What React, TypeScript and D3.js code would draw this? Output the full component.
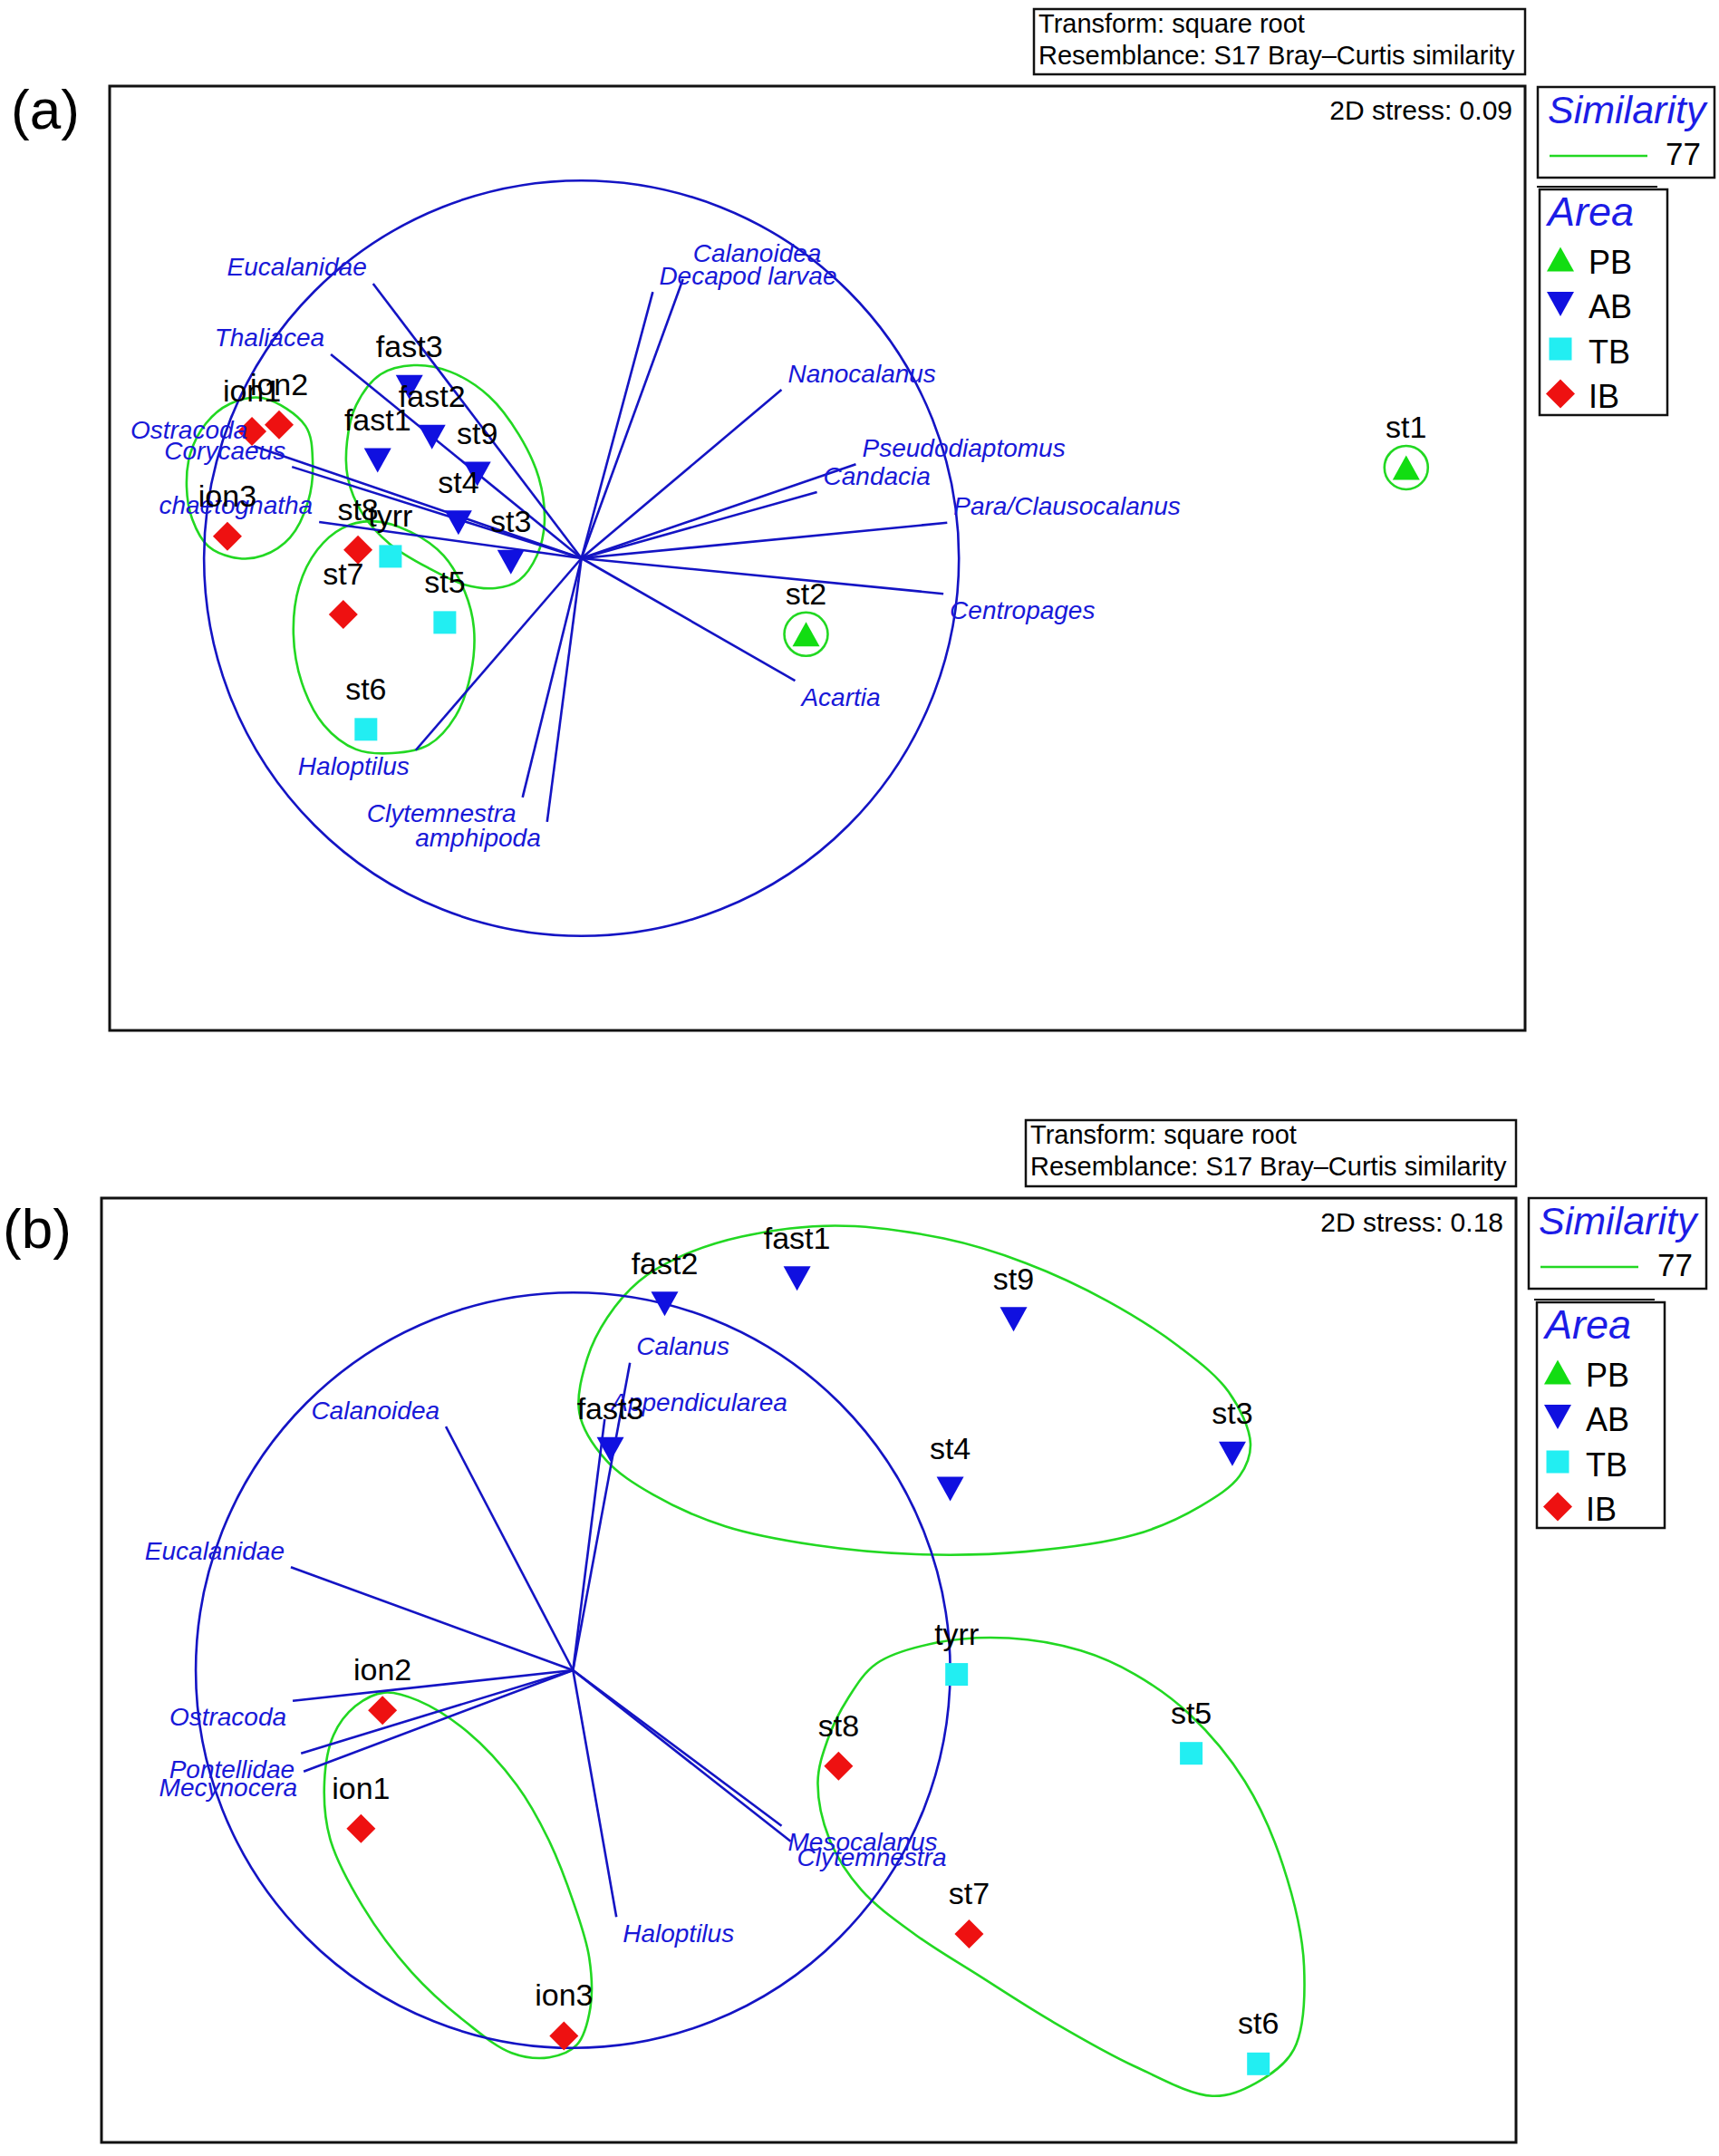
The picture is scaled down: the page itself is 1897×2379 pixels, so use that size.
import React from 'react';
import * as d3 from 'd3';

// ---------------- shared categories ----------------
const AREAS = ['PB', 'AB', 'TB', 'IB'];
const SIMILARITY_LEVEL = 77;
const INFO_LINES = ['Transform: square root', 'Resemblance: S17 Bray\u2013Curtis similarity'];

// ---------------- panel (a) data ----------------
const A_SAMPLE_NAMES = ['st1', 'st2', 'fast3', 'fast2', 'fast1', 'st9', 'st4', 'st3', 'ion1', 'ion2', 'ion3', 'st8', 'tyrr', 'st7', 'st5', 'st6'];
const A_SAMPLE_AREAS = ['PB', 'PB', 'AB', 'AB', 'AB', 'AB', 'AB', 'AB', 'IB', 'IB', 'IB', 'IB', 'TB', 'IB', 'TB', 'TB'];
const A_SAMPLE_X = [2.185, 0.595, -0.456, -0.396, -0.540, -0.276, -0.326, -0.187, -0.873, -0.801, -0.938, -0.592, -0.506, -0.631, -0.362, -0.571];
const A_SAMPLE_Y = [0.240, -0.201, 0.453, 0.321, 0.259, 0.223, 0.094, -0.010, 0.336, 0.353, 0.058, 0.022, 0.005, -0.149, -0.170, -0.453];
const A_SPECIES = ['Eucalanidae', 'Thaliacea', 'Ostracoda', 'Corycaeus', 'chaetognatha', 'Calanoidea', 'Decapod larvae', 'Nanocalanus', 'Pseudodiaptomus', 'Candacia', 'Para/Clausocalanus', 'Centropages', 'Acartia', 'Haloptilus', 'Clytemnestra', 'amphipoda'];
const A_VEC_X = [-0.552, -0.664, -0.868, -0.767, -0.695, 0.269, 0.189, 0.530, 0.727, 0.624, 0.969, 0.959, 0.566, -0.439, -0.156, -0.091];
const A_VEC_Y = [0.727, 0.540, 0.297, 0.242, 0.096, 0.739, 0.705, 0.446, 0.249, 0.175, 0.094, -0.094, -0.324, -0.508, -0.633, -0.698];
const A_CLUSTER_ION = [[-0.844, 0.424], [-0.731, 0.350], [-0.712, 0.254], [-0.724, 0.151], [-0.772, 0.055], [-0.844, 0.007], [-0.909, 0.000], [-0.988, 0.031], [-1.031, 0.103], [-1.046, 0.189], [-1.036, 0.278], [-0.995, 0.357], [-0.933, 0.408]];
const A_CLUSTER_FAST = [[-0.444, 0.511], [-0.348, 0.494], [-0.245, 0.429], [-0.165, 0.326], [-0.113, 0.213], [-0.098, 0.094], [-0.118, 0.007], [-0.165, -0.058], [-0.228, -0.079], [-0.309, -0.070], [-0.405, -0.026], [-0.508, 0.038], [-0.580, 0.118], [-0.619, 0.213], [-0.621, 0.309], [-0.597, 0.405], [-0.532, 0.487]];
const A_CLUSTER_ST7 = [[-0.556, 0.098], [-0.453, 0.070], [-0.365, 0.007], [-0.309, -0.089], [-0.285, -0.185], [-0.293, -0.305], [-0.333, -0.417], [-0.405, -0.494], [-0.501, -0.516], [-0.597, -0.506], [-0.683, -0.441], [-0.741, -0.329], [-0.763, -0.201], [-0.748, -0.074], [-0.700, 0.022], [-0.635, 0.079]];
const A_SINGLETONS = ['st1', 'st2'];
const A_STRESS = '0.09';

// ---------------- panel (b) data ----------------
const B_SAMPLE_NAMES = ['fast2', 'fast1', 'st9', 'st3', 'st4', 'fast3', 'tyrr', 'st5', 'st7', 'st6', 'st8', 'ion2', 'ion1', 'ion3'];
const B_SAMPLE_AREAS = ['AB', 'AB', 'AB', 'AB', 'AB', 'AB', 'TB', 'TB', 'IB', 'TB', 'IB', 'IB', 'IB', 'IB'];
const B_SAMPLE_X = [0.243, 0.594, 1.168, 1.748, 1.000, 0.099, 1.017, 1.639, 1.050, 1.817, 0.704, -0.505, -0.562, -0.024];
const B_SAMPLE_Y = [0.970, 1.037, 0.929, 0.573, 0.480, 0.585, -0.011, -0.220, -0.698, -1.042, -0.254, -0.106, -0.419, -0.968];
const B_SPECIES = ['Calanoidea', 'Eucalanidae', 'Calanus', 'Appendicularea', 'Ostracoda', 'Pontellidae', 'Mecynocera', 'Haloptilus', 'Mesocalanus', 'Clytemnestra'];
const B_VEC_X = [-0.337, -0.748, 0.151, 0.084, -0.743, -0.721, -0.714, 0.115, 0.553, 0.577];
const B_VEC_Y = [0.645, 0.273, 0.814, 0.665, -0.081, -0.220, -0.268, -0.653, -0.412, -0.453];
const B_CLUSTER_AB = [[0.017, 0.681], [0.038, 0.826], [0.091, 0.934], [0.175, 1.030], [0.284, 1.095], [0.447, 1.148], [0.695, 1.177], [0.983, 1.143], [1.200, 1.078], [1.418, 0.977], [1.606, 0.857], [1.738, 0.737], [1.796, 0.600], [1.767, 0.514], [1.663, 0.434], [1.490, 0.359], [1.200, 0.314], [0.909, 0.307], [0.644, 0.331], [0.404, 0.381], [0.212, 0.465], [0.087, 0.557]];
const B_CLUSTER_ION = [[-0.500, -0.059], [-0.411, -0.080], [-0.281, -0.162], [-0.149, -0.304], [-0.065, -0.448], [0.002, -0.617], [0.043, -0.761], [0.046, -0.893], [0.010, -0.992], [-0.063, -1.025], [-0.163, -1.013], [-0.281, -0.934], [-0.428, -0.799], [-0.558, -0.624], [-0.644, -0.446], [-0.659, -0.295], [-0.635, -0.172], [-0.577, -0.095]];
const B_CLUSTER_TB = [[1.156, 0.085], [1.346, 0.052], [1.490, -0.011], [1.635, -0.117], [1.781, -0.294], [1.882, -0.516], [1.938, -0.783], [1.911, -1.004], [1.810, -1.093], [1.695, -1.127], [1.490, -1.049], [1.269, -0.929], [1.077, -0.809], [0.909, -0.701], [0.764, -0.581], [0.680, -0.448], [0.649, -0.297], [0.675, -0.184], [0.728, -0.076], [0.805, 0.018], [0.964, 0.073]];
const B_SINGLETONS: string[] = [];
const B_STRESS = '0.18';

// ---------------- axis domains ----------------
const X_DOMAIN = [-1.25, 2.5];
const Y_DOMAIN = [-1.25, 1.25];

// ---------------- styles ----------------
const FONT = "'Liberation Sans', Arial, Helvetica, sans-serif";
const AREA_COLORS: Record<string, string> = { PB: '#12dd12', AB: '#1010e0', TB: '#22eef2', IB: '#ee1111' };
const VEC_COLOR = '#1414c4';
const VEC_TEXT = '#1818d8';
const HEAD_BLUE = '#1c1ce6';
const GREEN = '#22d822';

function markerPath(area: string): string {
  switch (area) {
    case 'PB': return 'M-15,13.5L15,13.5L0,-13.5Z';
    case 'AB': return 'M-15,-13.5L15,-13.5L0,13.5Z';
    case 'TB': return 'M-12.5,-12.5h25v25h-25Z';
    default: return 'M0,-16L16,0L0,16L-16,0Z';
  }
}

const PANELS = [
  {
    id: 'a', names: A_SAMPLE_NAMES, areas: A_SAMPLE_AREAS, sx: A_SAMPLE_X, sy: A_SAMPLE_Y,
    species: A_SPECIES, vx: A_VEC_X, vy: A_VEC_Y,
    clusters: [A_CLUSTER_ION, A_CLUSTER_FAST, A_CLUSTER_ST7], singletons: A_SINGLETONS, stress: A_STRESS,
    frame: { l: 121, t: 95, r: 1683, b: 1137 }, tag: { x: 12, y: 142 },
    info: { l: 1141, t: 10, r: 1683, b: 82 },
    sim: { l: 1697, t: 96, r: 1892, b: 196 },
    area: { l: 1699, t: 209, r: 1840, b: 458 },
    nudge: { Calanoidea: [4, -10] } as Record<string, number[]>,
  },
  {
    id: 'b', names: B_SAMPLE_NAMES, areas: B_SAMPLE_AREAS, sx: B_SAMPLE_X, sy: B_SAMPLE_Y,
    species: B_SPECIES, vx: B_VEC_X, vy: B_VEC_Y,
    clusters: [B_CLUSTER_AB, B_CLUSTER_ION, B_CLUSTER_TB], singletons: B_SINGLETONS, stress: B_STRESS,
    frame: { l: 112, t: 1322, r: 1673, b: 2364 }, tag: { x: 3, y: 1377 },
    info: { l: 1132, t: 1236, r: 1673, b: 1309 },
    sim: { l: 1687, t: 1322, r: 1883, b: 1422 },
    area: { l: 1696, t: 1437, r: 1837, b: 1686 },
    nudge: {} as Record<string, number[]>,
  },
];

function Panel({ p }: { p: any }) {
  const x = d3.scaleLinear().domain(X_DOMAIN).range([p.frame.l, p.frame.r]);
  const y = d3.scaleLinear().domain(Y_DOMAIN).range([p.frame.b, p.frame.t]);
  const samples = p.names.map((n: string, i: number) => ({ name: n, area: p.areas[i], x: p.sx[i], y: p.sy[i] }));
  const vectors = p.species.map((s: string, i: number) => ({ name: s, x: p.vx[i], y: p.vy[i] }));
  const contour = d3.line<number[]>().x(d => x(d[0])).y(d => y(d[1])).curve(d3.curveCatmullRomClosed.alpha(0.5));
  const rx = x(1) - x(0);
  const ry = y(0) - y(1);
  const { frame, info, sim, area } = p;

  return (
    <g>
      <text x={p.tag.x} y={p.tag.y} fontSize={62} fill="#000">({p.id})</text>

      {/* info box */}
      <rect x={info.l} y={info.t} width={info.r - info.l} height={info.b - info.t} fill="#fff" stroke="#111" strokeWidth={2.5} />
      {INFO_LINES.map((s, i) => (
        <text key={s} x={info.l + 5} y={info.t + 26 + i * 35} fontSize={29} fill="#000">{s}</text>
      ))}

      {/* frame */}
      <rect x={frame.l} y={frame.t} width={frame.r - frame.l} height={frame.b - frame.t} fill="#fff" stroke="#111" strokeWidth={3} />
      <text x={frame.r - 14} y={frame.t + 37} fontSize={30} textAnchor="end" fill="#000">2D stress: {p.stress}</text>

      {/* similarity contours */}
      {p.clusters.map((c: number[][], i: number) => (
        <path key={'c' + i} d={contour(c) || ''} fill="none" stroke={GREEN} strokeWidth={2.6} />
      ))}
      {samples.filter((s: any) => p.singletons.includes(s.name)).map((s: any) => (
        <circle key={'sg' + s.name} cx={x(s.x)} cy={y(s.y)} r={24} fill="none" stroke={GREEN} strokeWidth={2.6} />
      ))}

      {/* vector circle */}
      <ellipse cx={x(0)} cy={y(0)} rx={rx} ry={ry} fill="none" stroke={VEC_COLOR} strokeWidth={2.6} />

      {/* vectors */}
      {vectors.map((v: any) => (
        <line key={'v' + v.name} x1={x(0)} y1={y(0)} x2={x(v.x)} y2={y(v.y)} stroke={VEC_COLOR} strokeWidth={2.6} />
      ))}

      {/* sample markers */}
      {samples.map((s: any) => (
        <path key={'m' + s.name} d={markerPath(s.area)} transform={`translate(${x(s.x)},${y(s.y)})`} fill={AREA_COLORS[s.area]} />
      ))}

      {/* vector labels */}
      {vectors.map((v: any) => {
        const right = v.x >= 0;
        const up = v.y >= 0;
        const n = p.nudge[v.name] || [0, 0];
        return (
          <text key={'vl' + v.name} x={x(v.x) + (right ? 7 : -7) + n[0]} y={y(v.y) + (up ? -18 : 18) + n[1]}
            fontSize={28} fontStyle="italic" fill={VEC_TEXT} textAnchor={right ? 'start' : 'end'}
            dominantBaseline="central">{v.name}</text>
        );
      })}

      {/* sample labels */}
      {samples.map((s: any) => (
        <text key={'l' + s.name} x={x(s.x)} y={y(s.y) - 33} fontSize={34} textAnchor="middle" fill="#000">{s.name}</text>
      ))}

      {/* similarity legend */}
      <rect x={sim.l} y={sim.t} width={sim.r - sim.l} height={sim.b - sim.t} fill="#fff" stroke="#111" strokeWidth={2.5} />
      <text x={sim.l + 11} y={sim.t + 40} fontSize={43} fontStyle="italic" fill={HEAD_BLUE}>Similarity</text>
      <line x1={sim.l + 13} x2={sim.l + 121} y1={sim.t + 76} y2={sim.t + 76} stroke={GREEN} strokeWidth={2.6} />
      <text x={sim.r - 15} y={sim.t + 86} fontSize={35} textAnchor="end" fill="#000">{SIMILARITY_LEVEL}</text>

      {/* area legend */}
      <line x1={area.l - 3} x2={area.l + 130} y1={area.t - 3} y2={area.t - 3} stroke="#111" strokeWidth={2} />
      <rect x={area.l} y={area.t} width={area.r - area.l} height={area.b - area.t} fill="#fff" stroke="#111" strokeWidth={2.5} />
      <text x={area.l + 9} y={area.t + 40} fontSize={45} fontStyle="italic" fill={HEAD_BLUE}>Area</text>
      {AREAS.map((a, i) => {
        const cy = area.t + 77 + i * 49.5;
        return (
          <g key={'lg' + a}>
            <path d={markerPath(a)} transform={`translate(${area.l + 23},${cy})`} fill={AREA_COLORS[a]} />
            <text x={area.l + 54} y={cy + 3} fontSize={36} dominantBaseline="central" fill="#000">{a}</text>
          </g>
        );
      })}
    </g>
  );
}

export default function App() {
  return (
    <svg width={1897} height={2379} viewBox="0 0 1897 2379"
      style={{ position: 'absolute', left: 0, top: 0, display: 'block', background: '#fff' }}
      fontFamily={FONT}>
      <rect x={0} y={0} width={1897} height={2379} fill="#fff" />
      {PANELS.map(p => <Panel key={p.id} p={p} />)}
    </svg>
  );
}
